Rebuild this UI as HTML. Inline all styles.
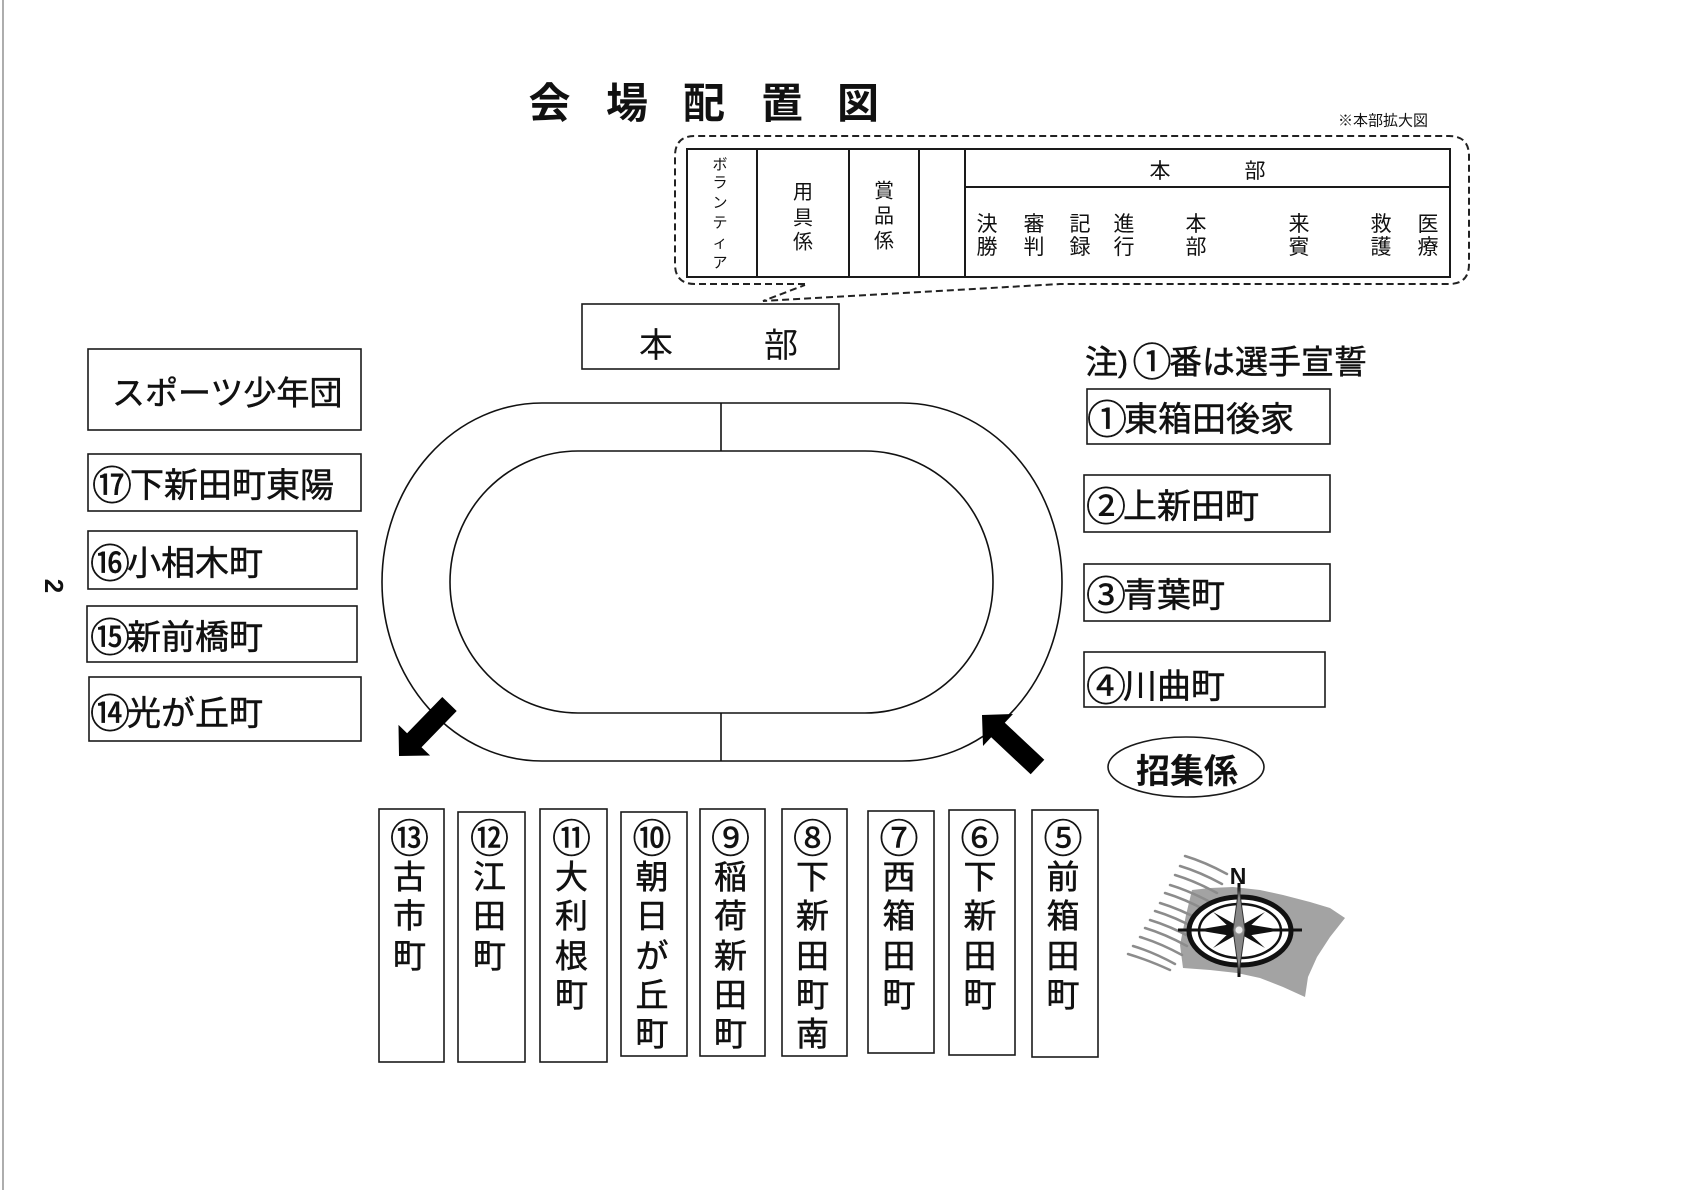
<!DOCTYPE html>
<html><head><meta charset="utf-8"><style>
html,body{margin:0;padding:0;background:#fff;}
svg{display:block;}
text{font-family:"Liberation Sans","Noto Sans CJK JP",sans-serif;fill:#111;}
.bx{stroke:#111;stroke-width:0.5;}
</style></head><body>
<svg width="1682" height="1190" viewBox="0 0 1682 1190" xmlns="http://www.w3.org/2000/svg">
<rect x="0" y="0" width="1682" height="1190" fill="#fff"/>
<line x1="3" y1="0" x2="3" y2="1190" stroke="#777" stroke-width="1.2"/>

<!-- Title -->
<g font-size="42" font-weight="bold" text-anchor="middle">
<text x="549.5" y="118">会</text>
<text x="627" y="118">場</text>
<text x="704" y="118">配</text>
<text x="782" y="118">置</text>
<text x="858" y="118">図</text>
</g>

<text x="1338" y="125.5" font-size="15">※本部拡大図</text>

<!-- Dashed callout -->
<path d="M 805 284 L 695 284 Q 675 284 675 264 L 675 156 Q 675 136 695 136 L 1449 136 Q 1469 136 1469 156 L 1469 264 Q 1469 284 1449 284 L 1060 284 L 763 301 L 805 285" fill="none" stroke="#222" stroke-width="2" stroke-dasharray="7 4"/>

<!-- Table -->
<g stroke="#1a1a1a" stroke-width="2" fill="none">
<rect x="687" y="149" width="763" height="128"/>
<line x1="757" y1="149" x2="757" y2="277"/>
<line x1="849" y1="149" x2="849" y2="277"/>
<line x1="919" y1="149" x2="919" y2="277"/>
<line x1="965" y1="149" x2="965" y2="277"/>
<line x1="965" y1="187" x2="1450" y2="187"/>
</g>
<g font-size="15" text-anchor="middle">
<text x="720" y="169.7">ボ</text>
<text x="720" y="187.7">ラ</text>
<text x="720" y="207.7">ン</text>
<text x="720" y="227.7">テ</text>
<text x="720" y="247.7">ィ</text>
<text x="720" y="267.7">ア</text>
</g>
<g font-size="20" text-anchor="middle">
<text x="803" y="198.6">用</text>
<text x="803" y="224.6">具</text>
<text x="803" y="248.6">係</text>
<text x="884" y="197.6">賞</text>
<text x="884" y="222.6">品</text>
<text x="884" y="247.6">係</text>
</g>
<g font-size="21" text-anchor="middle">
<text x="1160" y="178">本</text>
<text x="1255" y="178">部</text>
<text x="987" y="231">決</text><text x="987" y="254">勝</text>
<text x="1034" y="231">審</text><text x="1034" y="254">判</text>
<text x="1080" y="231">記</text><text x="1080" y="254">録</text>
<text x="1124" y="231">進</text><text x="1124" y="254">行</text>
<text x="1196" y="231">本</text><text x="1196" y="254">部</text>
<text x="1299" y="231">来</text><text x="1299" y="254">賓</text>
<text x="1381" y="231">救</text><text x="1381" y="254">護</text>
<text x="1428" y="231">医</text><text x="1428" y="254">療</text>
</g>

<!-- 本部 box -->
<rect x="582" y="304" width="257" height="65" fill="none" stroke="#1a1a1a" stroke-width="1.6"/>
<g font-size="34" text-anchor="middle">
<text x="656" y="357">本</text>
<text x="781" y="357">部</text>
</g>

<!-- Track -->
<g fill="none" stroke="#111" stroke-width="1.6">
<rect x="382" y="403" width="680" height="358" rx="160" ry="179"/>
<rect x="450" y="451" width="543" height="262" rx="128" ry="131"/>
<line x1="721" y1="403" x2="721" y2="451"/>
<line x1="721" y1="713" x2="721" y2="761"/>
</g>

<!-- Arrows -->
<polygon points="442.3,697 407.1,733.2 398.5,724.9 399,756 430.1,755.5 421.5,747.2 456.7,711" fill="#000"/>
<polygon points="1030.7,774.3 991.2,737.3 983,746 982,715 1013,714 1004.8,722.7 1044.3,759.7" fill="#000"/>

<!-- Left boxes -->
<g fill="none" stroke="#1a1a1a" stroke-width="1.6">
<rect x="88" y="349" width="273" height="81"/>
<rect x="88" y="454" width="273" height="57"/>
<rect x="88" y="531" width="269" height="58"/>
<rect x="87" y="606" width="270" height="56"/>
<rect x="89" y="677" width="272" height="64"/>
</g>
<text class="bx" x="112" y="404.5" font-size="33">スポーツ少年団</text>
<g font-size="34" class="bx">
<text x="112" y="499.5" font-size="40" text-anchor="middle">⑰</text><text x="130" y="497">下新田町東陽</text>
<text x="110" y="577.5" font-size="40" text-anchor="middle">⑯</text><text x="127" y="575">小相木町</text>
<text x="110" y="651.5" font-size="40" text-anchor="middle">⑮</text><text x="127" y="649">新前橋町</text>
<text x="110" y="727.5" font-size="40" text-anchor="middle">⑭</text><text x="127" y="725">光が丘町</text>
</g>

<!-- Right boxes -->
<g class="bx">
<text x="1085" y="373.5" font-size="33">注</text>
<text x="1118" y="372" font-size="30" style="font-family:'Liberation Sans',sans-serif">)</text>
<text x="1152" y="376" font-size="39" text-anchor="middle">①</text>
<text x="1169" y="373.5" font-size="33">番は選手宣誓</text>
</g>
<g fill="none" stroke="#1a1a1a" stroke-width="1.6">
<rect x="1087" y="389" width="243" height="55"/>
<rect x="1084" y="475" width="246" height="57"/>
<rect x="1084" y="564" width="246" height="57"/>
<rect x="1084" y="652" width="241" height="55"/>
</g>
<g font-size="34" class="bx">
<text x="1107" y="433.5" font-size="40" text-anchor="middle">①</text><text x="1124" y="431">東箱田後家</text>
<text x="1106" y="520.5" font-size="40" text-anchor="middle">②</text><text x="1123" y="518">上新田町</text>
<text x="1106" y="609.5" font-size="40" text-anchor="middle">③</text><text x="1123" y="607">青葉町</text>
<text x="1106" y="700.5" font-size="40" text-anchor="middle">④</text><text x="1123" y="698">川曲町</text>
</g>

<!-- 招集係 -->
<ellipse cx="1186" cy="767" rx="78" ry="30" fill="none" stroke="#1a1a1a" stroke-width="1.6"/>
<text x="1187" y="783" font-size="34" font-weight="bold" text-anchor="middle">招集係</text>

<!-- Bottom boxes -->
<g fill="none" stroke="#1a1a1a" stroke-width="1.6">
<rect x="379" y="809" width="65" height="253"/>
<rect x="458" y="812" width="67" height="250"/>
<rect x="540" y="809" width="67" height="253"/>
<rect x="621" y="812" width="66" height="244"/>
<rect x="700" y="809" width="65" height="247"/>
<rect x="782" y="809" width="65" height="247"/>
<rect x="868" y="811" width="66" height="242"/>
<rect x="949" y="810" width="66" height="245"/>
<rect x="1032" y="810" width="66" height="247"/>
</g>
<g font-size="39" text-anchor="middle" class="bx">
<text x="409.5" y="852.5">⑬</text>
<text x="489.5" y="852.5">⑫</text>
<text x="571.5" y="852.5">⑪</text>
<text x="652" y="852.5">⑩</text>
<text x="730.5" y="852.5">⑨</text>
<text x="812.5" y="852.5">⑧</text>
<text x="899" y="852.5">⑦</text>
<text x="980" y="852.5">⑥</text>
<text x="1063" y="852.5">⑤</text>
</g>
<g font-size="33" text-anchor="middle" class="bx">
<text x="409.5" y="888.5">古</text><text x="409.5" y="927.5">市</text><text x="409.5" y="967.5">町</text>
<text x="489.5" y="888.5">江</text><text x="489.5" y="927.5">田</text><text x="489.5" y="967.5">町</text>
<text x="571.5" y="888.5">大</text><text x="571.5" y="927.5">利</text><text x="571.5" y="967.5">根</text><text x="571.5" y="1006.5">町</text>
<text x="652" y="888.5">朝</text><text x="652" y="927.5">日</text><text x="652" y="967.5">が</text><text x="652" y="1006.5">丘</text><text x="652" y="1045.5">町</text>
<text x="730.5" y="888.5">稲</text><text x="730.5" y="927.5">荷</text><text x="730.5" y="967.5">新</text><text x="730.5" y="1006.5">田</text><text x="730.5" y="1045.5">町</text>
<text x="812.5" y="888.5">下</text><text x="812.5" y="927.5">新</text><text x="812.5" y="967.5">田</text><text x="812.5" y="1006.5">町</text><text x="812.5" y="1045.5">南</text>
<text x="899" y="888.5">西</text><text x="899" y="927.5">箱</text><text x="899" y="967.5">田</text><text x="899" y="1006.5">町</text>
<text x="980" y="888.5">下</text><text x="980" y="927.5">新</text><text x="980" y="967.5">田</text><text x="980" y="1006.5">町</text>
<text x="1063" y="888.5">前</text><text x="1063" y="927.5">箱</text><text x="1063" y="967.5">田</text><text x="1063" y="1006.5">町</text>
</g>

<!-- Compass -->
<polygon points="1192,890 1210,888 1233,887 1260,890 1283,895 1310,902 1330,908 1345,918 1330,937 1317,957 1308,977 1305,997 1283,987 1260,978 1237,973 1210,970 1183,968 1180,945 1186,915" fill="#a3a3a3"/>
<g stroke="#8c8c8c" stroke-width="2.5" fill="none" stroke-linecap="round">
<path d="M1185,856 q20,6 42,18"/>
<path d="M1180,866 q20,6 42,18"/>
<path d="M1175,875 q20,6 42,18"/>
<path d="M1170,885 q20,6 42,18"/>
<path d="M1165,893 q20,6 42,18"/>
<path d="M1160,903 q20,6 42,18"/>
<path d="M1155,911 q20,6 42,18"/>
<path d="M1150,920 q20,6 42,18"/>
<path d="M1145,928 q20,6 42,18"/>
<path d="M1140,937 q20,6 42,18"/>
<path d="M1133,946 q20,6 42,18"/>
<path d="M1128,954 q20,6 42,16"/>
</g>
<ellipse cx="1240" cy="931" rx="51" ry="34" fill="#fff" stroke="#111" stroke-width="5"/>
<ellipse cx="1240" cy="931" rx="41" ry="27" fill="none" stroke="#111" stroke-width="2.5"/>
<line x1="1178" y1="930" x2="1302" y2="930" stroke="#111" stroke-width="3"/>
<line x1="1239" y1="883" x2="1239" y2="977" stroke="#111" stroke-width="3"/>
<g fill="#111">
<polygon points="1196,930 1232,924 1239,930 1232,936"/>
<polygon points="1282,930 1246,924 1239,930 1246,936"/>
<polygon points="1213,912 1236,925 1232,930"/>
<polygon points="1265,912 1242,925 1246,930"/>
<polygon points="1213,948 1236,935 1232,930"/>
<polygon points="1265,948 1242,935 1246,930"/>
</g>
<polygon points="1239,887 1245,930 1239,973 1233,930" fill="#888" stroke="#333" stroke-width="1"/>
<circle cx="1239" cy="930" r="4" fill="#eee" stroke="#999" stroke-width="1"/>
<text x="1238" y="884" font-size="23" font-weight="bold" text-anchor="middle">N</text>

<!-- page mark -->
<text transform="translate(54,586) rotate(90)" text-anchor="middle" dominant-baseline="central" font-weight="bold" font-size="26">2</text>
</svg>
</body></html>
